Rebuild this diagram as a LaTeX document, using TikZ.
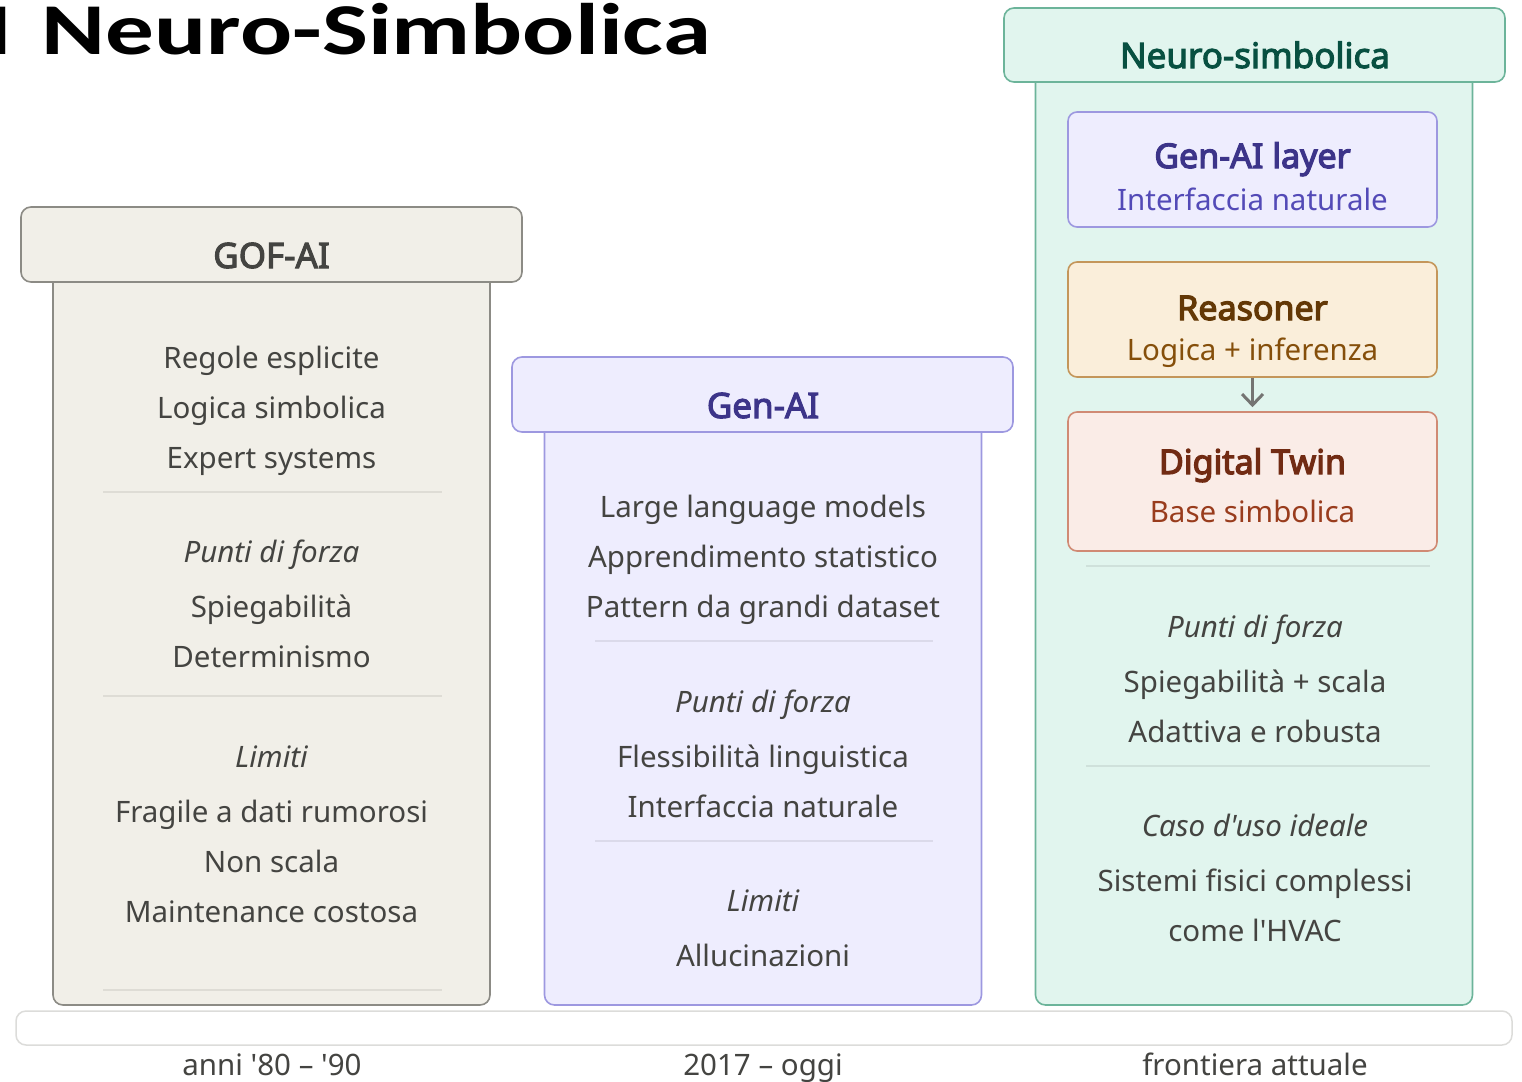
\documentclass[tikz,border=0pt]{standalone}
\usepackage{fontspec}
\usetikzlibrary{arrows.meta}
\newfontfamily\nf{Noto Sans}
\newfontfamily\nfmed{Noto Sans}[FakeBold=3]
\newfontfamily\nfsemi{Noto Sans}[FakeBold=3.6]
\newfontfamily\titlefont{Carlito}
\definecolor{ink}{HTML}{444441}
\definecolor{begfill}{HTML}{F1EFE8}
\definecolor{begline}{HTML}{8C8B85}
\definecolor{lavfill}{HTML}{EEEDFE}
\definecolor{lavline}{HTML}{9D98E0}
\definecolor{lavtitle}{HTML}{3C3489}
\definecolor{lavsub}{HTML}{534AB7}
\definecolor{mintfill}{HTML}{E1F5EE}
\definecolor{mintline}{HTML}{6CB49A}
\definecolor{minttitle}{HTML}{085041}
\definecolor{ambfill}{HTML}{FAEEDA}
\definecolor{ambline}{HTML}{C4965A}
\definecolor{ambtitle}{HTML}{633806}
\definecolor{ambsub}{HTML}{854F0B}
\definecolor{corfill}{HTML}{FAECE7}
\definecolor{corline}{HTML}{D08A74}
\definecolor{cortitle}{HTML}{712B13}
\definecolor{corsub}{HTML}{993C1D}
\definecolor{barline}{HTML}{DCDCDA}
\definecolor{arrowgray}{HTML}{747472}
\tikzset{
  hdr/.style={draw, rounded corners=10pt, line width=1.6pt, minimum width=501pt, minimum height=75pt, inner sep=0pt},
  colbody/.style={draw, rounded corners=10pt, line width=1.6pt, minimum width=437pt, inner sep=0pt},
  inbox/.style={draw, rounded corners=9pt, line width=1.6pt, minimum width=369pt, inner sep=0pt},
  txt/.style={anchor=base, inner sep=0pt, text=ink, font={\nf\fontsize{29.5}{35}\selectfont}},
  itx/.style={anchor=base, inner sep=0pt, text=ink, font={\nf\itshape\fontsize{29.5}{35}\selectfont}},
  hdrtxt/.style={anchor=base, inner sep=0pt, font={\nfmed\fontsize{35}{40}\selectfont}},
  intitle/.style={anchor=base, inner sep=0pt, font={\nfsemi\fontsize{34}{40}\selectfont}},
  insub/.style={anchor=base, inner sep=0pt, font={\nf\fontsize{29.5}{35}\selectfont}},
  sepline/.style={line width=2pt, draw=black, draw opacity=0.08},
}
\begin{document}
\begin{tikzpicture}[x=1pt,y=-1pt]
\clip (0,0) rectangle (1522,1081);
\fill[white] (0,0) rectangle (1522,1081);

% title
\node[anchor=base east, inner sep=0pt, font={\titlefont\bfseries\fontsize{73}{80}\selectfont}, xscale=1.33, transform shape] (title) at (711,55) {AI\hspace{0.08em} Neuro-Simbolica};

% ---------- GOF-AI column ----------
\node[colbody, fill=begfill, draw=begline, minimum height=745pt] (b1) at (271.5,632.5) {};
\node[hdr, fill=begfill, draw=begline] (h1) at (271.5,244.5) {};
\node[hdrtxt, text=ink] (h1t) at (271.5,268) {GOF-AI};
\node[txt] (g1) at (271.5,368) {Regole esplicite};
\node[txt] (g2) at (271.5,418) {Logica simbolica};
\node[txt] (g3) at (271.5,468) {Expert systems};
\draw[sepline] (103,492) -- (442,492);
\node[itx] (g4) at (271.5,562) {Punti di forza};
\node[txt] (g5) at (271.5,617) {Spiegabilità};
\node[txt] (g6) at (271.5,667) {Determinismo};
\draw[sepline] (103,696) -- (442,696);
\node[itx] (g7) at (271.5,767) {Limiti};
\node[txt] (g8) at (271.5,822) {Fragile a dati rumorosi};
\node[txt] (g9) at (271.5,872) {Non scala};
\node[txt] (g10) at (271.5,922) {Maintenance costosa};
\draw[sepline] (103,990) -- (442,990);

% ---------- Gen-AI column ----------
\node[colbody, fill=lavfill, draw=lavline, minimum height=595pt] (b2) at (763,707.5) {};
\node[hdr, fill=lavfill, draw=lavline] (h2) at (762.5,394.5) {};
\node[hdrtxt, text=lavtitle] (h2t) at (763,418) {Gen-AI};
\node[txt] (n1) at (763,517) {Large language models};
\node[txt] (n2) at (763,567) {Apprendimento statistico};
\node[txt] (n3) at (763,617) {Pattern da grandi dataset};
\draw[sepline] (595,641) -- (933,641);
\node[itx] (n4) at (763,712) {Punti di forza};
\node[txt] (n5) at (763,767) {Flessibilità linguistica};
\node[txt] (n6) at (763,817) {Interfaccia naturale};
\draw[sepline] (595,841) -- (933,841);
\node[itx] (n7) at (763,911) {Limiti};
\node[txt] (n8) at (763,966) {Allucinazioni};

% ---------- Neuro-simbolica column ----------
\node[colbody, fill=mintfill, draw=mintline, minimum height=945pt] (b3) at (1254,532.5) {};
\node[hdr, fill=mintfill, draw=mintline, minimum height=74pt] (h3) at (1254.5,45) {};
\node[hdrtxt, text=minttitle] (h3t) at (1255,68) {Neuro-simbolica};

\node[inbox, fill=lavfill, draw=lavline, minimum height=115pt] (gl) at (1252.5,169.5) {};
\node[intitle, text=lavtitle] (glt) at (1252.5,168) {Gen-AI layer};
\node[insub, text=lavsub] (gls) at (1252.5,210) {Interfaccia naturale};

\node[inbox, fill=ambfill, draw=ambline, minimum height=115pt] (rs) at (1252.5,319.5) {};
\node[intitle, text=ambtitle] (rst) at (1252.5,320) {Reasoner};
\node[insub, text=ambsub] (rss) at (1252.5,360) {Logica + inferenza};

\node[inbox, fill=corfill, draw=corline, minimum height=139pt] (dt) at (1252.5,481.5) {};
\node[intitle, text=cortitle] (dtt) at (1252.5,474) {Digital Twin};
\node[insub, text=corsub] (dts) at (1252.5,522) {Base simbolica};

\draw[draw=arrowgray, line width=3pt, shorten >=4pt, -{Straight Barb[length=11pt,width=21pt,line width=3pt]}] (rs.south) -- (dt.north);

\draw[sepline] (1086,566) -- (1430,566);
\node[itx] (m1) at (1255,637) {Punti di forza};
\node[txt] (m2) at (1255,692) {Spiegabilità + scala};
\node[txt] (m3) at (1255,742) {Adattiva e robusta};
\draw[sepline] (1086,766) -- (1430,766);
\node[itx] (m4) at (1255,836) {Caso d'uso ideale};
\node[txt] (m5) at (1255,891) {Sistemi fisici complessi};
\node[txt] (m6) at (1255,941) {come l'HVAC};

% ---------- timeline ----------
\node[draw=barline, fill=white, line width=1.5pt, rounded corners=10pt, minimum width=1496pt, minimum height=34pt, inner sep=0pt] (bar) at (764,1028) {};
\node[txt] (t1) at (272,1075) {anni '80 – '90};
\node[txt] (t2) at (763,1075) {2017 – oggi};
\node[txt] (t3) at (1255,1075) {frontiera attuale};
\end{tikzpicture}
\end{document}
